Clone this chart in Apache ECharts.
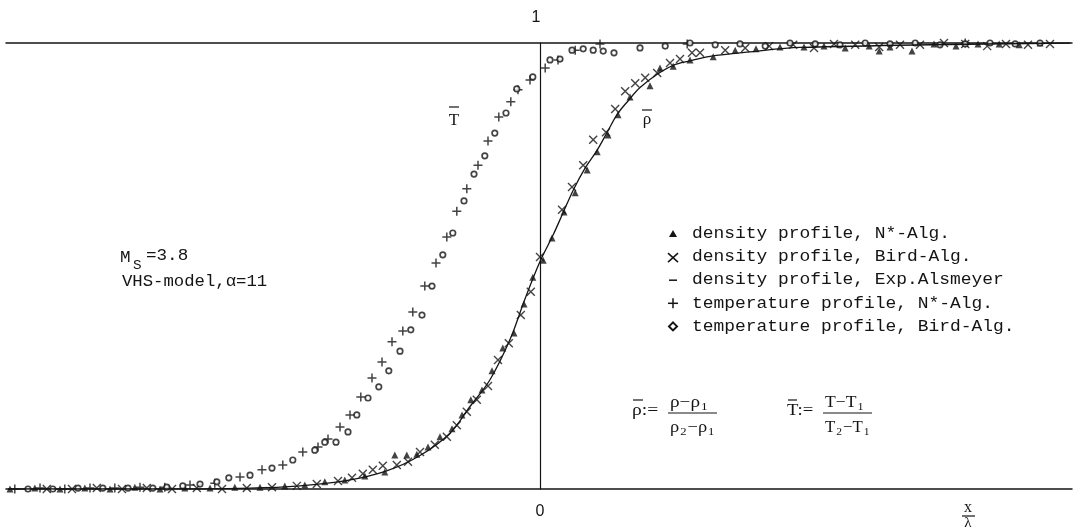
<!DOCTYPE html>
<html>
<head>
<meta charset="utf-8">
<script src="https://cdn.jsdelivr.net/npm/echarts@6/dist/echarts.min.js"></script>
<style>
  html, body { margin: 0; padding: 0; background: #fff; }
  #chart { width: 1076px; height: 530px; }
</style>
</head>
<body>
<div id="chart"></div>
<script>
// x in units of lambda (0 = shock centre), y = normalised profile
var densityNStar = [[-13.25,0.0],[-12.63,0.002],[-12.0,0.0],[-11.38,0.002],[-10.75,0.0],[-10.13,0.004],[-9.5,0.0],[-8.88,0.002],[-8.25,0.002],[-7.63,0.004],[-7.0,0.004],[-6.38,0.007],[-5.88,0.009],[-5.38,0.016],[-4.88,0.02],[-4.38,0.029],[-3.88,0.038],[-3.63,0.076],[-3.33,0.076],[-3.08,0.078],[-2.8,0.094],[-2.5,0.117],[-2.2,0.135],[-1.95,0.166],[-1.73,0.2],[-1.45,0.222],[-1.2,0.265],[-0.93,0.316],[-0.65,0.35],[-0.4,0.415],[-0.18,0.475],[0.08,0.513],[0.3,0.563],[0.6,0.621],[0.88,0.664],[1.18,0.715],[1.43,0.756],[1.7,0.794],[1.95,0.839],[2.25,0.879],[2.75,0.904],[3.0,0.944],[3.33,0.948],[3.75,0.962],[4.33,0.969],[4.88,0.984],[5.4,0.987],[6.0,0.991],[6.6,0.991],[7.1,0.993],[7.35,1.016],[7.63,0.989],[8.23,0.993],[8.48,0.982],[8.75,0.991],[9.3,0.982],[9.85,0.998],[10.4,0.993],[10.95,0.998],[11.18,1.013],[11.48,0.998],[11.98,0.996],[12.33,1.02],[12.5,1.0],[13.05,1.022]]
var densityBird = [[-12.95,-0.002],[-12.33,0.0],[-11.7,0.0],[-11.08,0.002],[-10.45,0.0],[-9.83,0.002],[-9.2,0.0],[-8.58,0.002],[-7.95,0.0],[-7.33,0.002],[-6.7,0.004],[-6.08,0.007],[-5.58,0.011],[-5.05,0.018],[-4.7,0.025],[-4.43,0.034],[-4.18,0.043],[-3.93,0.052],[-3.58,0.054],[-3.3,0.061],[-3.0,0.083],[-2.63,0.099],[-2.33,0.117],[-2.08,0.143],[-1.83,0.173],[-1.58,0.2],[-1.3,0.231],[-1.05,0.289],[-0.78,0.327],[-0.48,0.39],[-0.23,0.442],[0.0,0.52],[0.55,0.626],[0.8,0.677],[1.08,0.726],[1.33,0.783],[1.65,0.8],[1.88,0.852],[2.13,0.892],[2.38,0.91],[2.63,0.922],[2.93,0.933],[3.25,0.955],[3.5,0.964],[3.8,0.978],[4.0,0.978],[4.63,0.984],[5.13,0.989],[5.73,0.993],[6.2,1.011],[6.33,0.996],[6.85,0.989],[7.35,0.998],[7.88,0.996],[8.48,0.991],[9.0,0.996],[9.5,0.996],[10.1,1.0],[10.63,0.998],[11.18,0.993],[11.6,1.013],[11.65,0.998],[12.2,0.996],[12.75,0.998]]
var densityExp = [[-13.3,0.0],[-9.75,0.0],[-7.25,0.002],[-6.0,0.007],[-4.88,0.018],[-3.85,0.04],[-3.0,0.075],[-2.25,0.125],[-1.75,0.185],[-1.25,0.245],[-0.75,0.335],[-0.38,0.425],[0.0,0.51],[0.33,0.57],[0.58,0.62],[0.83,0.67],[1.13,0.72],[1.43,0.76],[1.68,0.8],[1.93,0.84],[2.2,0.87],[2.5,0.9],[2.93,0.93],[3.33,0.95],[3.75,0.96],[4.25,0.97],[5.25,0.98],[6.5,0.99],[13.25,1.0]]
var tempNStar = [[-13.13,0.0],[-12.5,0.002],[-11.88,0.0],[-11.25,0.002],[-10.63,0.002],[-10.0,0.004],[-9.38,0.004],[-8.75,0.009],[-8.13,0.013],[-7.5,0.027],[-6.95,0.043],[-6.43,0.054],[-5.93,0.083],[-5.55,0.094],[-5.3,0.112],[-5.0,0.139],[-4.75,0.166],[-4.48,0.206],[-4.2,0.249],[-3.95,0.285],[-3.7,0.33],[-3.43,0.354],[-3.18,0.397],[-2.88,0.455],[-2.6,0.507],[-2.33,0.565],[-2.08,0.623],[-1.83,0.673],[-1.55,0.726],[-1.3,0.78],[-1.03,0.834],[-0.73,0.868],[-0.55,0.895],[-0.25,0.917],[0.13,0.944],[0.45,0.962],[0.88,0.984],[1.5,0.998],[1.98,1.004],[2.3,1.004],[2.75,1.018],[3.0,1.018],[3.25,1.007],[3.68,0.998],[4.03,1.011],[4.45,1.02],[4.93,1.018],[5.3,1.011],[5.65,1.011],[6.25,1.013],[6.85,1.007],[7.35,1.018],[7.88,1.011],[8.3,1.007],[8.73,1.016],[9.13,1.018],[9.5,1.013],[10.1,1.002],[10.63,1.0],[11.13,1.013],[11.65,1.016],[11.98,1.002],[12.5,1.002],[13.0,1.004]]
var tempBird = [[-12.8,0.0],[-12.18,0.0],[-11.55,0.002],[-10.93,0.002],[-10.3,0.002],[-9.68,0.002],[-9.33,0.004],[-8.93,0.007],[-8.5,0.011],[-8.08,0.016],[-7.78,0.025],[-7.25,0.031],[-6.7,0.047],[-6.18,0.065],[-5.63,0.087],[-5.38,0.105],[-5.1,0.105],[-4.8,0.128],[-4.58,0.166],[-4.3,0.204],[-4.03,0.229],[-3.78,0.265],[-3.5,0.309],[-3.23,0.357],[-2.95,0.39],[-2.7,0.455],[-2.43,0.525],[-2.18,0.574],[-1.9,0.646],[-1.65,0.706],[-1.38,0.747],[-1.13,0.798],[-0.85,0.843],[-0.58,0.897],[-0.18,0.924],[0.25,0.962],[0.5,0.964],[0.8,0.984],[1.08,0.987],[1.33,0.984],[1.58,0.982],[1.85,0.978],[2.5,0.989],[3.13,0.993],[3.75,1.0],[4.38,0.996],[5.0,0.998],[5.63,0.993],[6.25,1.0],[6.88,0.998],[7.5,0.996],[8.13,1.0],[8.75,0.998],[9.38,1.0],[10.0,0.996],[10.63,0.998],[11.25,1.0],[11.88,0.998],[12.5,1.0]]

var legendTexts = [
  'density profile, N*-Alg.',
  'density profile, Bird-Alg.',
  'density profile, Exp.Alsmeyer',
  'temperature profile, N*-Alg.',
  'temperature profile, Bird-Alg.'
]

var INK = '#141414'
var MONO = '16px "Liberation Mono", "DejaVu Sans Mono", monospace'
var SERIF = '"Liberation Serif", "DejaVu Serif", serif'

var measureCtx = document.createElement('canvas').getContext('2d')
function textWidth (text, font) {
  measureCtx.font = font
  return measureCtx.measureText(text).width
}

function txt (x, y, text, font, align, scaleX) {
  return {
    type: 'text', x: x, y: y, silent: true, scaleX: scaleX || 1,
    style: { text: text, font: font, fill: INK, textVerticalAlign: 'middle', textAlign: align || 'left' }
  }
}
function seg (x1, y1, x2, y2, w) {
  return {
    type: 'line', silent: true,
    shape: { x1: x1, y1: y1, x2: x2, y2: y2 },
    style: { stroke: INK, lineWidth: w || 1.2 }
  }
}
// lay out a run of [text, isSubscript] pieces from x
function run (x, y, pieces, size, stretch) {
  var out = []
  pieces.forEach(function (p) {
    var sub = p[1]
    var font = (sub ? Math.round(size * 0.7) : size) + 'px ' + SERIF
    out.push(txt(x, sub ? y + 4 : y, p[0], font, 'left', stretch))
    x += textWidth(p[0], font) * stretch + 1
  })
  return out
}

var graphics = []
// legend block
var markers = [
  { type: 'polygon', shape: { points: [[673, -4], [677, 3], [669, 3]] } },
  { type: 'polyline', shape: { points: [[668, -4], [678, 5]] } },
  { type: 'line', shape: { x1: 669, y1: 0, x2: 677, y2: 0 } },
  { type: 'polyline', shape: { points: [[673, -5], [673, 5]] } },
  { type: 'polygon', shape: { points: [[673, -4], [677, 0], [673, 4], [669, 0]] } }
]
legendTexts.forEach(function (t, i) {
  var y = 234 + i * 23.1
  var m = markers[i]
  m.silent = true
  m.y = y
  if (m.type === 'polygon') {
    m.style = i === 4 ? { fill: '#fff', stroke: INK, lineWidth: 2 } : { fill: INK }
  } else {
    m.style = { stroke: INK, lineWidth: 1.5 }
  }
  graphics.push(m)
  if (i === 1) graphics.push({ type: 'polyline', silent: true, y: y, shape: { points: [[678, -4], [668, 5]] }, style: { stroke: INK, lineWidth: 1.5 } })
  if (i === 3) graphics.push({ type: 'polyline', silent: true, y: y, shape: { points: [[668, 0], [678, 0]] }, style: { stroke: INK, lineWidth: 1.5 } })
  graphics.push(txt(692, y, t, MONO, 'left', 1.12))
})
// left annotation
graphics.push(txt(120, 258, 'M', MONO, 'left', 1.1))
graphics.push(txt(133, 266, 'S', '13px "Liberation Mono", monospace', 'left', 1.1))
graphics.push(txt(146, 256, '=3.8', MONO, 'left', 1.1))
graphics.push(txt(122, 282, 'VHS-model,\u03B1=11', MONO, 'left', 1.08))
// curve labels
graphics.push(seg(449, 107, 459, 107))
graphics.push(txt(454, 121, 'T', '17px ' + SERIF, 'center'))
graphics.push(seg(642, 110, 652, 110))
graphics.push(txt(647, 120, '\u03C1', '17px ' + SERIF, 'center'))
// definitions
graphics.push(seg(633, 400, 643, 400))
graphics = graphics.concat(run(632, 411, [['\u03C1:=', false]], 17, 1.15))
graphics = graphics.concat(run(670, 403, [['\u03C1\u2212\u03C1', false], ['1', true]], 16, 1.2))
graphics.push(seg(668, 413, 717, 413, 1))
graphics = graphics.concat(run(670, 428, [['\u03C1', false], ['2', true], ['\u2212\u03C1', false], ['1', true]], 16, 1.15))
graphics.push(seg(788, 400, 797, 400))
graphics = graphics.concat(run(787, 411, [['T:=', false]], 17, 1.1))
graphics = graphics.concat(run(825, 403, [['T\u2212T', false], ['1', true]], 16, 1.1))
graphics.push(seg(823, 413, 872, 413, 1))
graphics = graphics.concat(run(825, 428, [['T', false], ['2', true], ['\u2212T', false], ['1', true]], 16, 1.05))
// axis marks
graphics.push(txt(536, 18, '1', '16px "Liberation Sans", sans-serif', 'center'))
graphics.push(txt(540, 512, '0', '16px "Liberation Sans", sans-serif', 'center'))
graphics.push(txt(968, 508, 'x', '16px ' + SERIF, 'center'))
graphics.push(seg(962, 516, 975, 516, 1.2))
graphics.push(txt(968, 523, '\u03BB', '15px ' + SERIF, 'center'))

var crossPath = 'path://M0,0L10,10M10,0L0,10'
var plusPath = 'path://M5,0L5,10M0,5L10,5'

var chart = echarts.init(document.getElementById('chart'))
chart.setOption({
  animation: false,
  backgroundColor: '#fff',
  grid: { left: 6, right: 4, top: 43, bottom: 41 },
  xAxis: [
    {
      type: 'value', min: -13.35, max: 13.3,
      axisLine: { onZero: true, lineStyle: { color: INK, width: 1.5 } },
      axisTick: { show: false }, axisLabel: { show: false }, splitLine: { show: false }
    },
    {
      type: 'value', position: 'top', min: -13.35, max: 13.3,
      axisLine: { onZero: false, lineStyle: { color: INK, width: 1.5 } },
      axisTick: { show: false }, axisLabel: { show: false }, splitLine: { show: false }
    }
  ],
  yAxis: {
    type: 'value', min: 0, max: 1,
    axisLine: { show: true, onZero: true, lineStyle: { color: INK, width: 1.2 } },
    axisTick: { show: false }, axisLabel: { show: false }, splitLine: { show: false }
  },
  series: [
    {
      name: 'density profile, Exp.Alsmeyer', type: 'line', data: densityExp,
      smooth: 0.35, showSymbol: false, lineStyle: { color: INK, width: 1.3 }
    },
    {
      name: 'density profile, N*-Alg.', type: 'scatter', data: densityNStar,
      symbol: 'triangle', symbolSize: 7, itemStyle: { color: INK }
    },
    {
      name: 'density profile, Bird-Alg.', type: 'scatter', data: densityBird,
      symbol: crossPath, symbolSize: 8,
      itemStyle: { color: 'none', borderColor: INK, borderWidth: 1.4 }
    },
    {
      name: 'temperature profile, N*-Alg.', type: 'scatter', data: tempNStar,
      symbol: plusPath, symbolSize: 9,
      itemStyle: { color: 'none', borderColor: INK, borderWidth: 1.5 }
    },
    {
      name: 'temperature profile, Bird-Alg.', type: 'scatter', data: tempBird,
      symbol: 'circle', symbolSize: 5.5,
      itemStyle: { color: '#fff', borderColor: INK, borderWidth: 1.7 }
    }
  ],
  graphic: graphics
})
</script>
</body>
</html>
